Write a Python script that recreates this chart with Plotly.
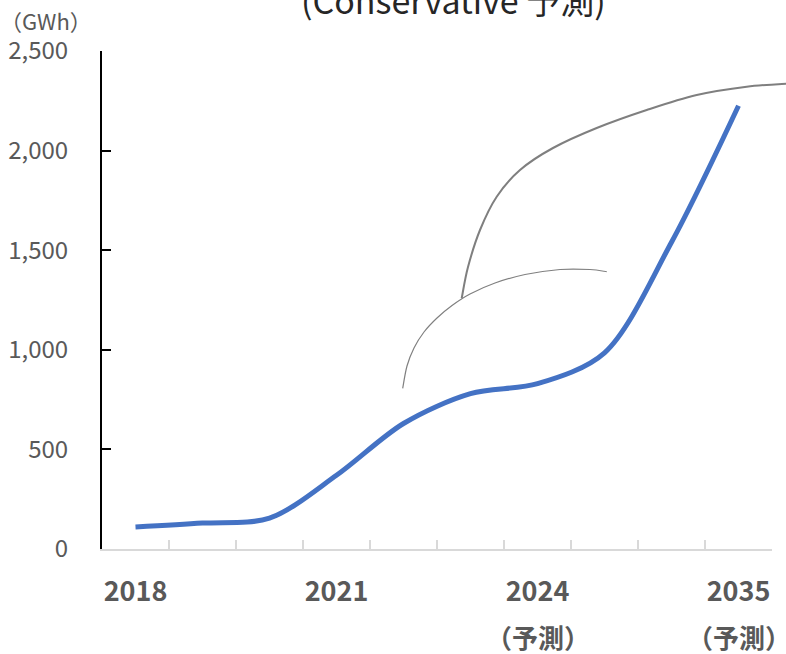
import plotly.graph_objects as go

# ---- data ----
categories = ["2018", "2019", "2020", "2021", "2022", "2023", "2024", "2025", "2030", "2035"]
tick_labels = ["2018", "", "", "2021", "", "", "2024", "", "", "2035"]
forecast_cats = ["2024", "2035"]
values = [110, 130, 155, 370, 630, 780, 830, 985, 1540, 2225]
y_ticks = [0, 500, 1000, 1500, 2000, 2500]

title_text = "(Conservative 予測)"
unit_text = "（GWh）"
forecast_text = "（予測）"

# ---- layout geometry (pixels) ----
W, H = 786, 654
L, R, T, B = 102, 14, 51, 105
PW, PH = W - L - R, H - T - B

def px(x):
    return (x - L) / PW

def py(y):
    return (H - B - y) / PH

# decorative grey curves (pixel positions)
curve_big = [(461.7, 298.3), (468, 267), (480, 230), (496.7, 196.7), (520, 170),
             (553, 148), (596.7, 128), (646.7, 110), (696.7, 95), (746.7, 86.7), (790, 83.5)]
curve_small = [(402.7, 388.3), (407, 366), (414, 348), (424, 332), (437, 318),
               (452, 305.5), (470, 294), (495, 283), (525, 274.5), (560, 269.5),
               (590, 269.5), (606.7, 271.7)]

def smooth_path(pts):
    P = [(px(x), py(y)) for x, y in pts]
    d = "M {:.5f},{:.5f}".format(*P[0])
    for i in range(len(P) - 1):
        p0 = P[i - 1] if i > 0 else P[i]
        p1 = P[i]
        p2 = P[i + 1]
        p3 = P[i + 2] if i + 2 < len(P) else P[i + 1]
        c1 = (p1[0] + (p2[0] - p0[0]) / 6, p1[1] + (p2[1] - p0[1]) / 6)
        c2 = (p2[0] - (p3[0] - p1[0]) / 6, p2[1] - (p3[1] - p1[1]) / 6)
        d += " C {:.5f},{:.5f} {:.5f},{:.5f} {:.5f},{:.5f}".format(*c1, *c2, *p2)
    return d

grey = "#595959"
font_family = "Noto Sans CJK JP"

fig = go.Figure()
fig.add_trace(go.Scatter(
    x=categories, y=values, mode="lines",
    line=dict(color="#4472C4", width=5, shape="spline", smoothing=0.9),
    hoverinfo="x+y", showlegend=False,
))

fig.update_layout(
    width=W, height=H,
    margin=dict(l=L, r=R, t=T, b=B, autoexpand=False),
    paper_bgcolor="white", plot_bgcolor="white",
    font=dict(family=font_family, color=grey),
    showlegend=False,
    xaxis=dict(
        type="category", categoryorder="array", categoryarray=categories,
        range=[-0.5, len(categories) - 0.5],
        tickmode="array", tickvals=categories, ticktext=tick_labels, tickangle=0,
        tickson="boundaries", ticks="inside", ticklen=9, tickwidth=1.5, tickcolor="#D9D9D9",
        showline=True, linecolor="#D9D9D9", linewidth=1.5,
        showgrid=False, zeroline=False,
        tickfont=dict(family=font_family, size=27, color=grey, weight="bold"),
        ticklabelstandoff=18,
    ),
    yaxis=dict(
        range=[0, 2500], tickmode="array", tickvals=y_ticks, tickformat=",",
        ticks="inside", ticklen=9, tickwidth=1.5, tickcolor="black",
        showline=True, linecolor="black", linewidth=2,
        showgrid=False, zeroline=False,
        tickfont=dict(family=font_family, size=24, color=grey),
        ticklabelstandoff=27,
    ),
)

annotations = [
    dict(text=title_text, xref="paper", yref="paper", x=px(453), y=py(26),
         xanchor="center", yanchor="bottom", showarrow=False,
         font=dict(family=font_family, size=34, color="#262626")),
    dict(text=unit_text, xref="paper", yref="paper", x=px(-2), y=py(20),
         xanchor="left", yanchor="middle", showarrow=False,
         font=dict(family=font_family, size=22, color=grey)),
]
for c in forecast_cats:
    annotations.append(dict(text=forecast_text, xref="x", yref="paper", x=categories.index(c),
                            y=py(636), xanchor="center", yanchor="middle", showarrow=False,
                            font=dict(family=font_family, size=26, color=grey, weight="bold")))
fig.update_layout(annotations=annotations)

fig.update_layout(shapes=[
    dict(type="path", xref="paper", yref="paper", path=smooth_path(curve_big),
         line=dict(color="#7F7F7F", width=2)),
    dict(type="path", xref="paper", yref="paper", path=smooth_path(curve_small),
         line=dict(color="#808080", width=1.2)),
])

fig.write_html("out.html")
